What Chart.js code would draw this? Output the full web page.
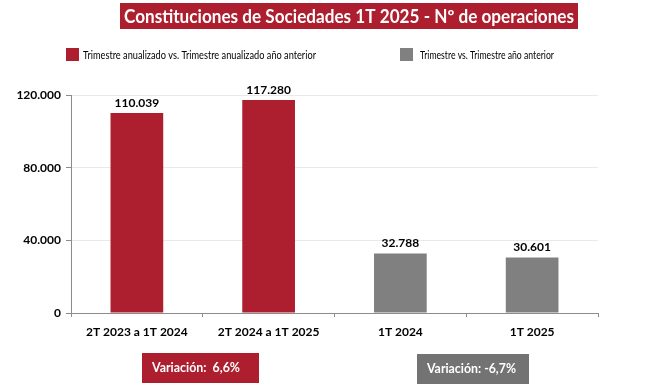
<!DOCTYPE html>
<html>
<head>
<meta charset="utf-8">
<script src="https://cdn.jsdelivr.net/npm/chart.js@4.4.1/dist/chart.umd.min.js"></script>
<style>
  body { margin: 0; background: #fff; }
  #wrap { width: 645px; height: 392px; position: relative; }
</style>
</head>
<body>
<div id="wrap"><canvas id="myChart" width="645" height="392"></canvas></div>
<script>
var categories = ['2T 2023 a 1T 2024', '2T 2024 a 1T 2025', '1T 2024', '1T 2025'];
var annualValues = [110039, 117280, null, null];
var quarterValues = [null, null, 32788, 30601];
var valueLabels = ['110.039', '117.280', '32.788', '30.601'];
var yTickLabels = ['0', '40.000', '80.000', '120.000'];
var seriesNames = ['Trimestre anualizado vs. Trimestre anualizado año anterior', 'Trimestre vs. Trimestre año anterior'];
var variations = ['Variación:  6,6%', 'Variación: -6,7%'];
var titleText = 'Constituciones de Sociedades 1T 2025 - Nº de operaciones';

var RED = '#ad1e2e';
var GRAY = '#808080';
var DARKGRAY = '#737373';
var FONT = 'Lato, "Open Sans", sans-serif';

// draws title, legend, value labels and variation boxes
var decorations = {
  id: 'decorations',
  afterDatasetsDraw: function(chart) {
    var ctx = chart.ctx;
    ctx.save();

    // title box
    ctx.fillStyle = RED;
    ctx.fillRect(120, 3, 458, 26);
    ctx.fillStyle = '#fff';
    ctx.font = 'bold 18px ' + FONT;
    ctx.textAlign = 'center';
    ctx.textBaseline = 'middle';
    ctx.fillText(titleText, 349, 17, 450);

    // legend
    ctx.textAlign = 'left';
    ctx.font = '11px ' + FONT;
    ctx.fillStyle = RED;
    ctx.fillRect(66, 48, 13, 13);
    ctx.fillStyle = GRAY;
    ctx.fillRect(400, 48, 13, 13);
    ctx.fillStyle = '#000';
    ctx.fillText(seriesNames[0], 83, 55, 233);
    ctx.fillText(seriesNames[1], 420, 55, 134);

    // value labels
    ctx.font = 'bold 12px ' + FONT;
    ctx.textAlign = 'center';
    ctx.textBaseline = 'alphabetic';
    chart.data.datasets.forEach(function(ds, di) {
      var meta = chart.getDatasetMeta(di);
      meta.data.forEach(function(el, i) {
        if (ds.data[i] == null) return;
        ctx.fillText(valueLabels[i], el.x, el.y - 6);
      });
    });

    // variation boxes
    ctx.fillStyle = RED;
    ctx.fillRect(142, 353, 117, 30);
    ctx.fillStyle = DARKGRAY;
    ctx.fillRect(417, 354, 112, 30);
    ctx.fillStyle = '#fff';
    ctx.font = 'bold 13px ' + FONT;
    ctx.textAlign = 'left';
    ctx.textBaseline = 'middle';
    ctx.fillText(variations[0], 152, 368, 88);
    ctx.fillText(variations[1], 427, 369, 89);

    ctx.restore();
  }
};

window.onload = function() {
  init();
};

function init() {
  var ctx = document.getElementById('myChart').getContext('2d');
  var chart = new Chart(ctx, {
    type: 'bar',
    data: {
      labels: categories,
      datasets: [{
        label: seriesNames[0],
        data: annualValues,
        backgroundColor: RED,
        barPercentage: 0.4,
        categoryPercentage: 1
      }, {
        label: seriesNames[1],
        data: quarterValues,
        backgroundColor: GRAY,
        barPercentage: 0.4,
        categoryPercentage: 1
      }]
    },
    options: {
      responsive: false,
      animation: false,
      grouped: false,
      layout: {
        padding: { left: 0, right: 47, top: 95, bottom: 44 }
      },
      plugins: {
        legend: { display: false },
        title: { display: false },
        tooltip: { enabled: false }
      },
      scales: {
        x: {
          afterFit: function(scale) { scale.height = 35; },
          grid: {
            offset: true,
            drawOnChartArea: false,
            drawTicks: true,
            tickLength: 4,
            color: '#8c8c8c'
          },
          border: { color: '#8c8c8c' },
          ticks: {
            color: '#000',
            padding: 8,
            font: { family: FONT, size: 12, weight: 'bold' }
          }
        },
        y: {
          min: 0,
          max: 120000,
          afterFit: function(scale) { scale.width = 71; },
          grid: {
            color: '#e9e9e9',
            tickColor: '#8c8c8c',
            tickLength: 5
          },
          border: { color: '#8c8c8c' },
          ticks: {
            stepSize: 40000,
            color: '#000',
            padding: 5,
            font: { family: FONT, size: 12, weight: 'bold' },
            callback: function(v, i) { return yTickLabels[i]; }
          }
        }
      }
    },
    plugins: [decorations]
  });
}
</script>
</body>
</html>
